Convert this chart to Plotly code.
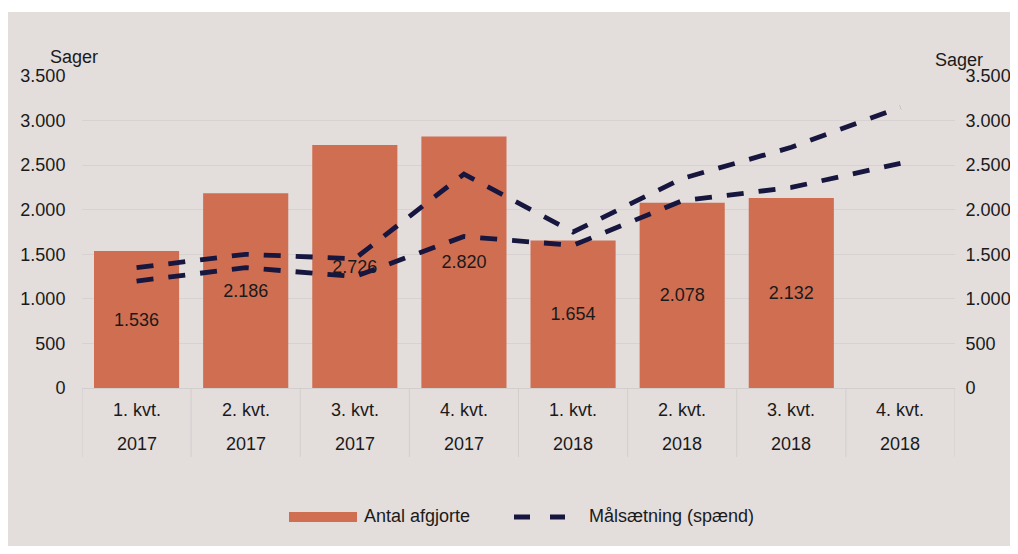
import plotly.graph_objects as go

quarters = ["1. kvt.", "2. kvt.", "3. kvt.", "4. kvt.", "1. kvt.", "2. kvt.", "3. kvt.", "4. kvt."]
years = ["2017", "2017", "2017", "2017", "2018", "2018", "2018", "2018"]
categories = [f"{q} {y}" for q, y in zip(quarters, years)]
afgjorte = [1536, 2186, 2726, 2820, 1654, 2078, 2132, None]
maal_lav = [1200, 1350, 1250, 1700, 1600, 2100, 2250, 2520]
maal_hoej = [1350, 1500, 1450, 2400, 1750, 2350, 2700, 3150]
y_ticks = [0, 500, 1000, 1500, 2000, 2500, 3000, 3500]
legend_bar = "Antal afgjorte"
legend_line = "Målsætning (spænd)"

BG = "#E3DDDC"
BAR = "#D06E52"
NAVY = "#16163F"
TXT = "#1a1a1a"
FONT = "Liberation Sans, Arial, sans-serif"
FS = 18

# page offset (body margin) and figure size
OFF = 8
W, H = 1018 - 2 * OFF, 554 - 2 * OFF
# plot area in page pixels
PL, PR, PT, PB = 82, 955, 76, 388
L, R, T, B = PL - OFF, (W + OFF) - PR, PT - OFF, H - (PB - OFF)
pw, ph = PR - PL, PB - PT


def px_x(p):
    return (p - PL) / pw


def px_y(p):
    return (PB - p) / ph


fig = go.Figure()
fig.add_trace(go.Bar(
    x=categories, y=afgjorte, name=legend_bar,
    marker=dict(color=BAR, line=dict(width=0)),
    width=0.78,
    text=afgjorte, texttemplate="%{y:,}", textposition="inside",
    insidetextanchor="middle", textangle=0,
    textfont=dict(color=TXT, size=FS, family=FONT),
    hoverinfo="skip", showlegend=False,
))
dash = "17px,15px"
for series in (maal_hoej, maal_lav):
    fig.add_trace(go.Scatter(
        x=categories, y=series, mode="lines", name=legend_line,
        line=dict(color=NAVY, width=4.8, dash=dash), yaxis="y2",
        showlegend=False, hoverinfo="skip",
    ))

shapes = [
    dict(type="rect", xref="paper", yref="paper", layer="below",
         x0=px_x(0), x1=px_x(1018), y0=px_y(554), y1=px_y(12),
         fillcolor=BG, line=dict(width=0)),
]
for i in range(len(categories) + 1):
    shapes.append(dict(type="line", xref="x", yref="paper",
                       x0=i - 0.5, x1=i - 0.5, y0=0, y1=px_y(457),
                       line=dict(color="#D2CECD", width=1)))
# custom legend swatches
shapes.append(dict(type="rect", xref="paper", yref="paper",
                   x0=px_x(289), x1=px_x(357), y0=px_y(522), y1=px_y(512),
                   fillcolor=BAR, line=dict(width=0)))
for a, b in ((514, 530), (550, 565)):
    shapes.append(dict(type="line", xref="paper", yref="paper",
                       x0=px_x(a), x1=px_x(b), y0=px_y(517), y1=px_y(517),
                       line=dict(color=NAVY, width=5)))

font = dict(size=FS, family=FONT, color=TXT)
annotations = []
for c, q, y in zip(categories, quarters, years):
    annotations.append(dict(x=c, xref="x", y=px_y(410), yref="paper", text=q,
                            showarrow=False, yanchor="middle", font=font))
    annotations.append(dict(x=c, xref="x", y=px_y(444), yref="paper", text=y,
                            showarrow=False, yanchor="middle", font=font))
annotations.append(dict(x=px_x(48), y=px_y(45), xref="paper", yref="paper", text="Sager",
                        showarrow=False, font=font))
annotations.append(dict(x=px_x(985), y=px_y(48), xref="paper", yref="paper", text="Sager",
                        showarrow=False, font=font))
annotations.append(dict(x=px_x(362), y=px_y(516), xref="paper", yref="paper", text=legend_bar,
                        showarrow=False, xanchor="left", yanchor="middle", font=font))
annotations.append(dict(x=px_x(587), y=px_y(516), xref="paper", yref="paper", text=legend_line,
                        showarrow=False, xanchor="left", yanchor="middle", font=font))

yax = dict(range=[0, 3500], tickvals=y_ticks, tickformat=",", showline=False,
           zeroline=False, ticks="outside", tickcolor="rgba(0,0,0,0)",
           tickfont=font, fixedrange=True)

fig.update_layout(
    width=W, height=H,
    margin=dict(l=L, r=R, t=T, b=B, autoexpand=False),
    paper_bgcolor="white", plot_bgcolor="rgba(0,0,0,0)",
    separators=",.",
    font=dict(family=FONT, size=FS, color=TXT),
    xaxis=dict(showticklabels=False, ticks="", showgrid=False, zeroline=False,
               showline=True, linecolor="#D2CECD", linewidth=1,
               categoryorder="array", categoryarray=categories,
               range=[-0.5, len(categories) - 0.5], fixedrange=True),
    yaxis=dict(**yax, ticklen=12, showgrid=True, gridcolor="#D6D2D1", gridwidth=1),
    yaxis2=dict(**yax, ticklen=6, overlaying="y", side="right", showgrid=False),
    shapes=shapes,
    annotations=annotations,
    showlegend=False,
)

fig.write_html("out.html")
